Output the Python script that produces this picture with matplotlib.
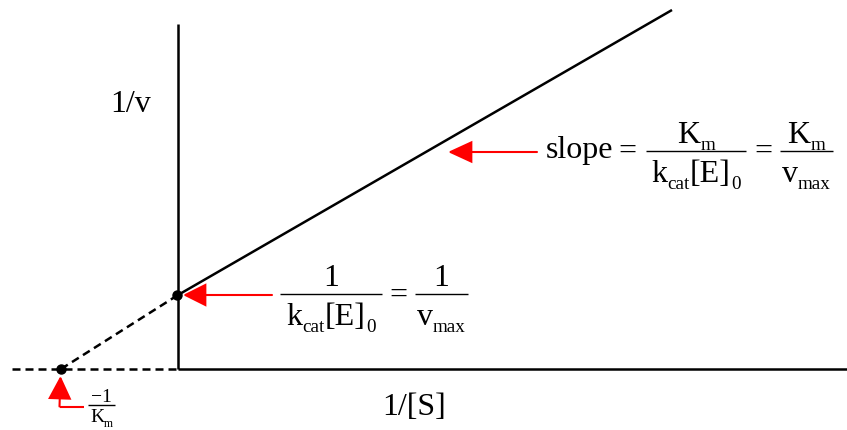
import matplotlib
matplotlib.use("Agg")
import matplotlib.pyplot as plt
from matplotlib.patches import FancyArrowPatch
from matplotlib.transforms import offset_copy

plt.rcParams['font.family'] = ['Liberation Serif', 'DejaVu Serif']

# ---- data (chart units: x = 1/[S], y = 1/v) ----
x_intercept = -1.17          # -1/Km
y_intercept = 0.74           # 1/vmax
solid_x = [0.0, 4.94]
solid_y = [0.74, 3.59]
dashed_x = [-1.17, 0.0]
dashed_y = [0.0, 0.74]
xaxis_end = 6.69
xaxis_dash_start = -1.66
yaxis_top = 3.45

# axis / annotation labels
ylabel = "1/v"
xlabel = "1/[S]"
K_M = [("K", False), ("m", True)]
KCAT_E0 = [("k", False), ("cat", True), ("[E]", False), ("0", True)]
V_MAX = [("v", False), ("max", True)]
ONE = [("1", False)]
NEG_ONE = [("\u22121", False)]

fig = plt.figure(figsize=(8.47, 4.31), dpi=100)
ax = fig.add_axes([0, 0, 1, 1])
ax.set_xlim(-1.78, 6.69)
ax.set_ylim(-0.61, 3.70)
ax.axis('off')
renderer = fig.canvas.get_renderer()

lw = 1.8
# axes
ax.plot([0, 0], [0, yaxis_top], color='black', lw=lw, solid_capstyle='butt')
ax.plot([0, xaxis_end], [0, 0], color='black', lw=lw, solid_capstyle='butt')
ax.plot([xaxis_dash_start, 0], [0, 0], color='black', lw=lw, dashes=(3.2, 2.0))
# line
ax.plot(dashed_x, dashed_y, color='black', lw=lw, dashes=(3.2, 2.0))
ax.plot(solid_x, solid_y, color='black', lw=lw, solid_capstyle='butt')
ax.plot([x_intercept, -0.015], [0, y_intercept], 'o', color='black', ms=6.5, lw=0)

red = '#ff0000'

def arrow(p0, p1, hl=14.4, hw=7.2):
    a = FancyArrowPatch(p0, p1, arrowstyle=f'-|>,head_length={hl},head_width={hw}',
                        mutation_scale=1, color=red, lw=1.5, shrinkA=0, shrinkB=0,
                        joinstyle='miter')
    ax.add_patch(a)

arrow((0.94, 0.74), (0.05, 0.74))
arrow((3.59, 2.17), (2.70, 2.17), hl=15, hw=6.9)
ax.plot([-0.94, -1.185], [-0.375, -0.375], color=red, lw=1.5, solid_capstyle='butt')
arrow((-1.185, -0.375), (-1.175, -0.07), hl=14.4, hw=7.2)

fs = 23
SUB_SCALE = 0.6
SUB_DROP = 0.22  # em

def rich(xc, y, pieces, size=fs):
    """Draw text pieces with subscripts, centred at xc, baseline y (data)."""
    widths = []
    for s, sub in pieces:
        t = ax.text(0, 0, s, fontsize=size * (SUB_SCALE if sub else 1.0))
        bb = t.get_window_extent(renderer)
        widths.append(bb.width * 72.0 / fig.dpi)
        t.remove()
    total = sum(widths)
    off = -total / 2.0
    for (s, sub), w in zip(pieces, widths):
        dy = -SUB_DROP * size if sub else 0.0
        tr = offset_copy(ax.transData, fig=fig, x=off, y=dy, units='points')
        ax.text(xc, y, s, transform=tr, ha='left', va='baseline',
                fontsize=size * (SUB_SCALE if sub else 1.0))
        off += w

def frac(xc, ybar, x0, x1, num, den, size=fs, gap_n=0.09, gap_d=0.30):
    ax.plot([x0, x1], [ybar, ybar], color='black', lw=1.0, solid_capstyle='butt')
    rich(xc, ybar + gap_n, num, size)
    rich(xc, ybar - gap_d, den, size)

# labels
ax.text(-0.47, 2.58, ylabel, ha='center', va='baseline', fontsize=fs)
ax.text(2.36, -0.45, xlabel, ha='center', va='baseline', fontsize=fs)

# intercept expression
frac(1.53, 0.75, 1.02, 2.04, ONE, KCAT_E0)
ax.text(2.20, 0.66, "=", ha='center', va='baseline', fontsize=fs)
frac(2.635, 0.75, 2.37, 2.90, ONE, V_MAX)

# slope expression
ax.text(3.68, 2.12, "slope", ha='left', va='baseline', fontsize=fs)
ax.text(4.49, 2.10, "=", ha='center', va='baseline', fontsize=fs)
frac(5.18, 2.18, 4.68, 5.68, K_M, KCAT_E0)
ax.text(5.85, 2.10, "=", ha='center', va='baseline', fontsize=fs)
frac(6.28, 2.18, 6.02, 6.55, K_M, V_MAX)

# -1/Km
frac(-0.765, -0.36, -0.90, -0.63, NEG_ONE, K_M, size=14, gap_n=0.04, gap_d=0.165)

fig.savefig("out.png", dpi=100)
